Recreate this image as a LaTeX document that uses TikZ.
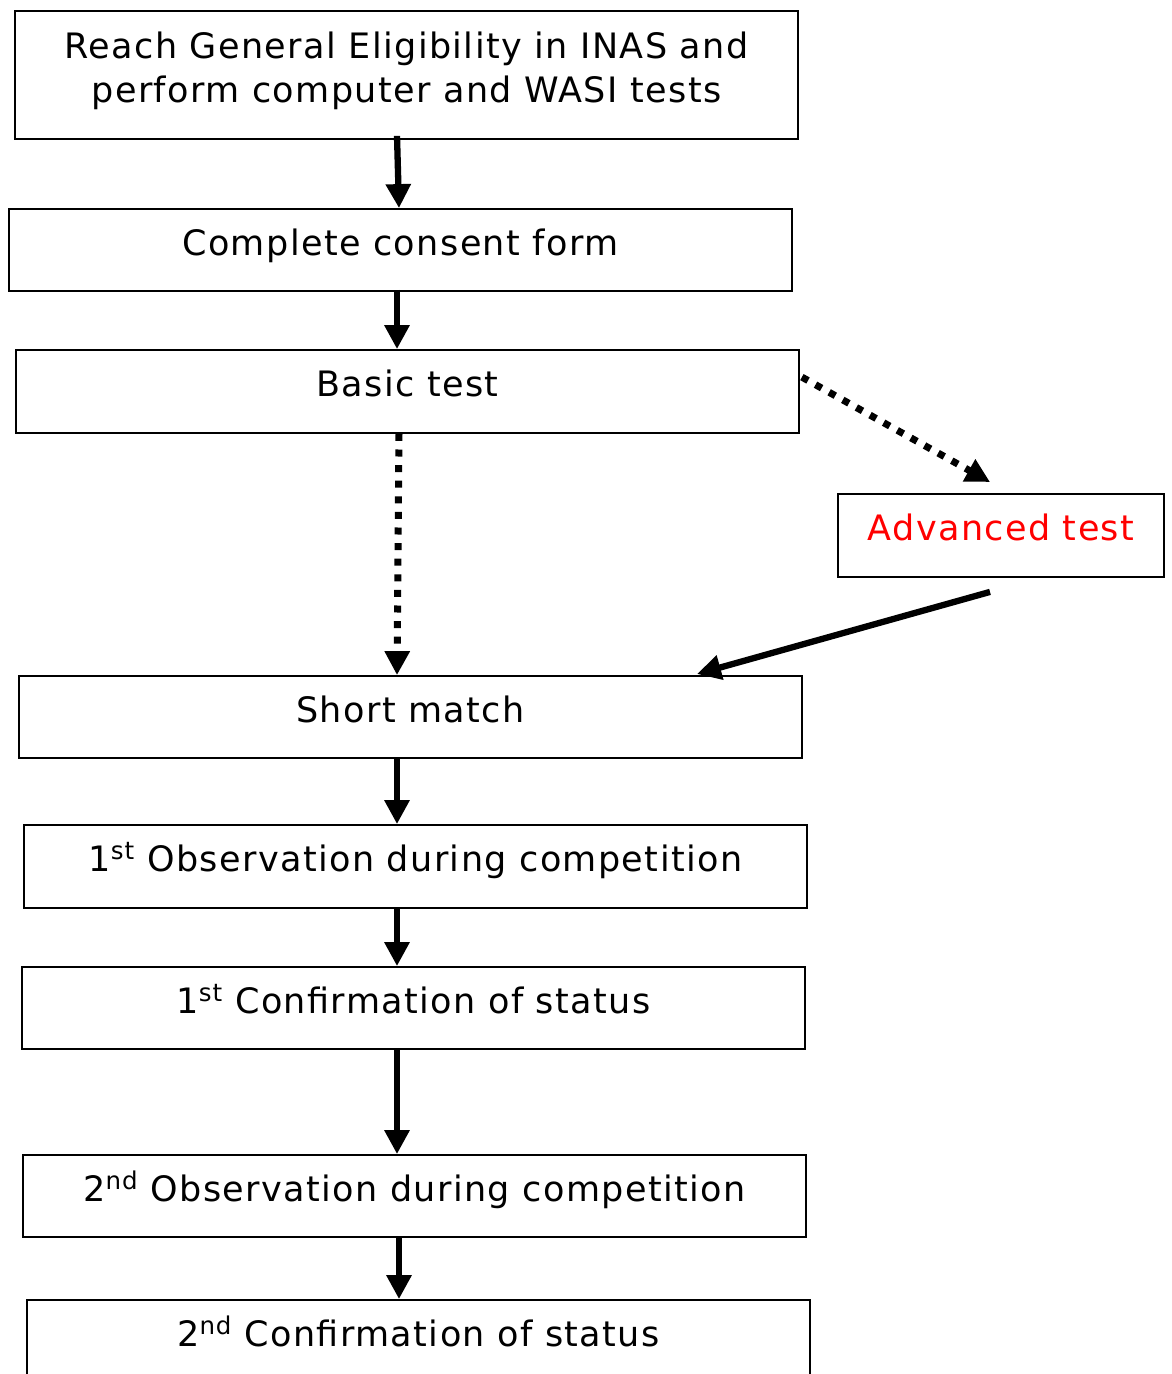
\documentclass[tikz,border=0pt]{standalone}
\usepackage{fontspec}
\setmainfont[LetterSpace=4]{DejaVu Sans}
\usetikzlibrary{arrows.meta}
\newcommand\mystrut{\rule[-16pt]{0pt}{42pt}}
\newcommand\supx[1]{\raisebox{3pt}{\textsuperscript{\smash{#1}}}}
\begin{document}
\begin{tikzpicture}[x=1pt,y=-1pt,
  box/.style={draw, line width=1.8pt, inner sep=0pt, align=center, font=\fontsize{35}{44}\selectfont},
  solidarrow/.style={line width=6.3pt, -{Triangle[width=24pt,length=24pt]}},
  dotarrow/.style={line width=7pt, dash pattern=on 7pt off 8.6pt, -{Triangle[width=24pt,length=24pt]}},
]
\useasboundingbox (0,0) rectangle (1171,1374);
\fill[white] (0,0) rectangle (1171,1374);
\node[box, minimum width=783pt, minimum height=128pt] (reach) at (406.5,75) {\mystrut Reach General Eligibility in INAS and\\\mystrut perform computer and WASI tests};
\node[box, minimum width=783pt, minimum height=82pt] (consent) at (400.5,250) {\mystrut Complete consent form};
\node[box, minimum width=783pt, minimum height=83pt] (basic) at (407.5,391.5) {\mystrut Basic test};
\node[box, minimum width=326pt, minimum height=83pt, text=red] (adv) at (1001,535.5) {\mystrut Advanced test};
\node[box, minimum width=783pt, minimum height=82pt] (short) at (410.5,717) {\mystrut Short match};
\node[box, minimum width=783pt, minimum height=83pt] (obs1) at (415.5,866.5) {\mystrut 1\supx{st} Observation during competition};
\node[box, minimum width=783pt, minimum height=82pt] (conf1) at (413.5,1008) {\mystrut 1\supx{st} Confirmation of status};
\node[box, minimum width=783pt, minimum height=82pt] (obs2) at (414.5,1196) {\mystrut 2\supx{nd} Observation during competition};
\node[box, minimum width=783pt, minimum height=83pt] (conf2) at (418.5,1341.5) {\mystrut 2\supx{nd} Confirmation of status};

\draw[solidarrow] (reach.south -| 397,0) ++(0,-4) -- (consent.north -| 399,0);
\draw[solidarrow] (consent.south -| 397,0) ++(0,-2) -- (basic.north -| 397,0);
\draw[dotarrow] (basic.south -| 399,0) -- (short.north -| 397,0);
\draw[dotarrow] (basic.north east) ++(2,28) -- (990,482);
\draw[solidarrow] (adv.south -| 990,0) ++(0,14) -- (697,674);
\draw[solidarrow] (short.south -| 397,0) -- (obs1.north -| 397,0);
\draw[solidarrow] (obs1.south -| 397,0) -- (conf1.north -| 397,0);
\draw[solidarrow] (conf1.south -| 397,0) -- (obs2.north -| 397,0);
\draw[solidarrow] (obs2.south -| 399,0) -- (conf2.north -| 399,0);
\end{tikzpicture}
\end{document}
